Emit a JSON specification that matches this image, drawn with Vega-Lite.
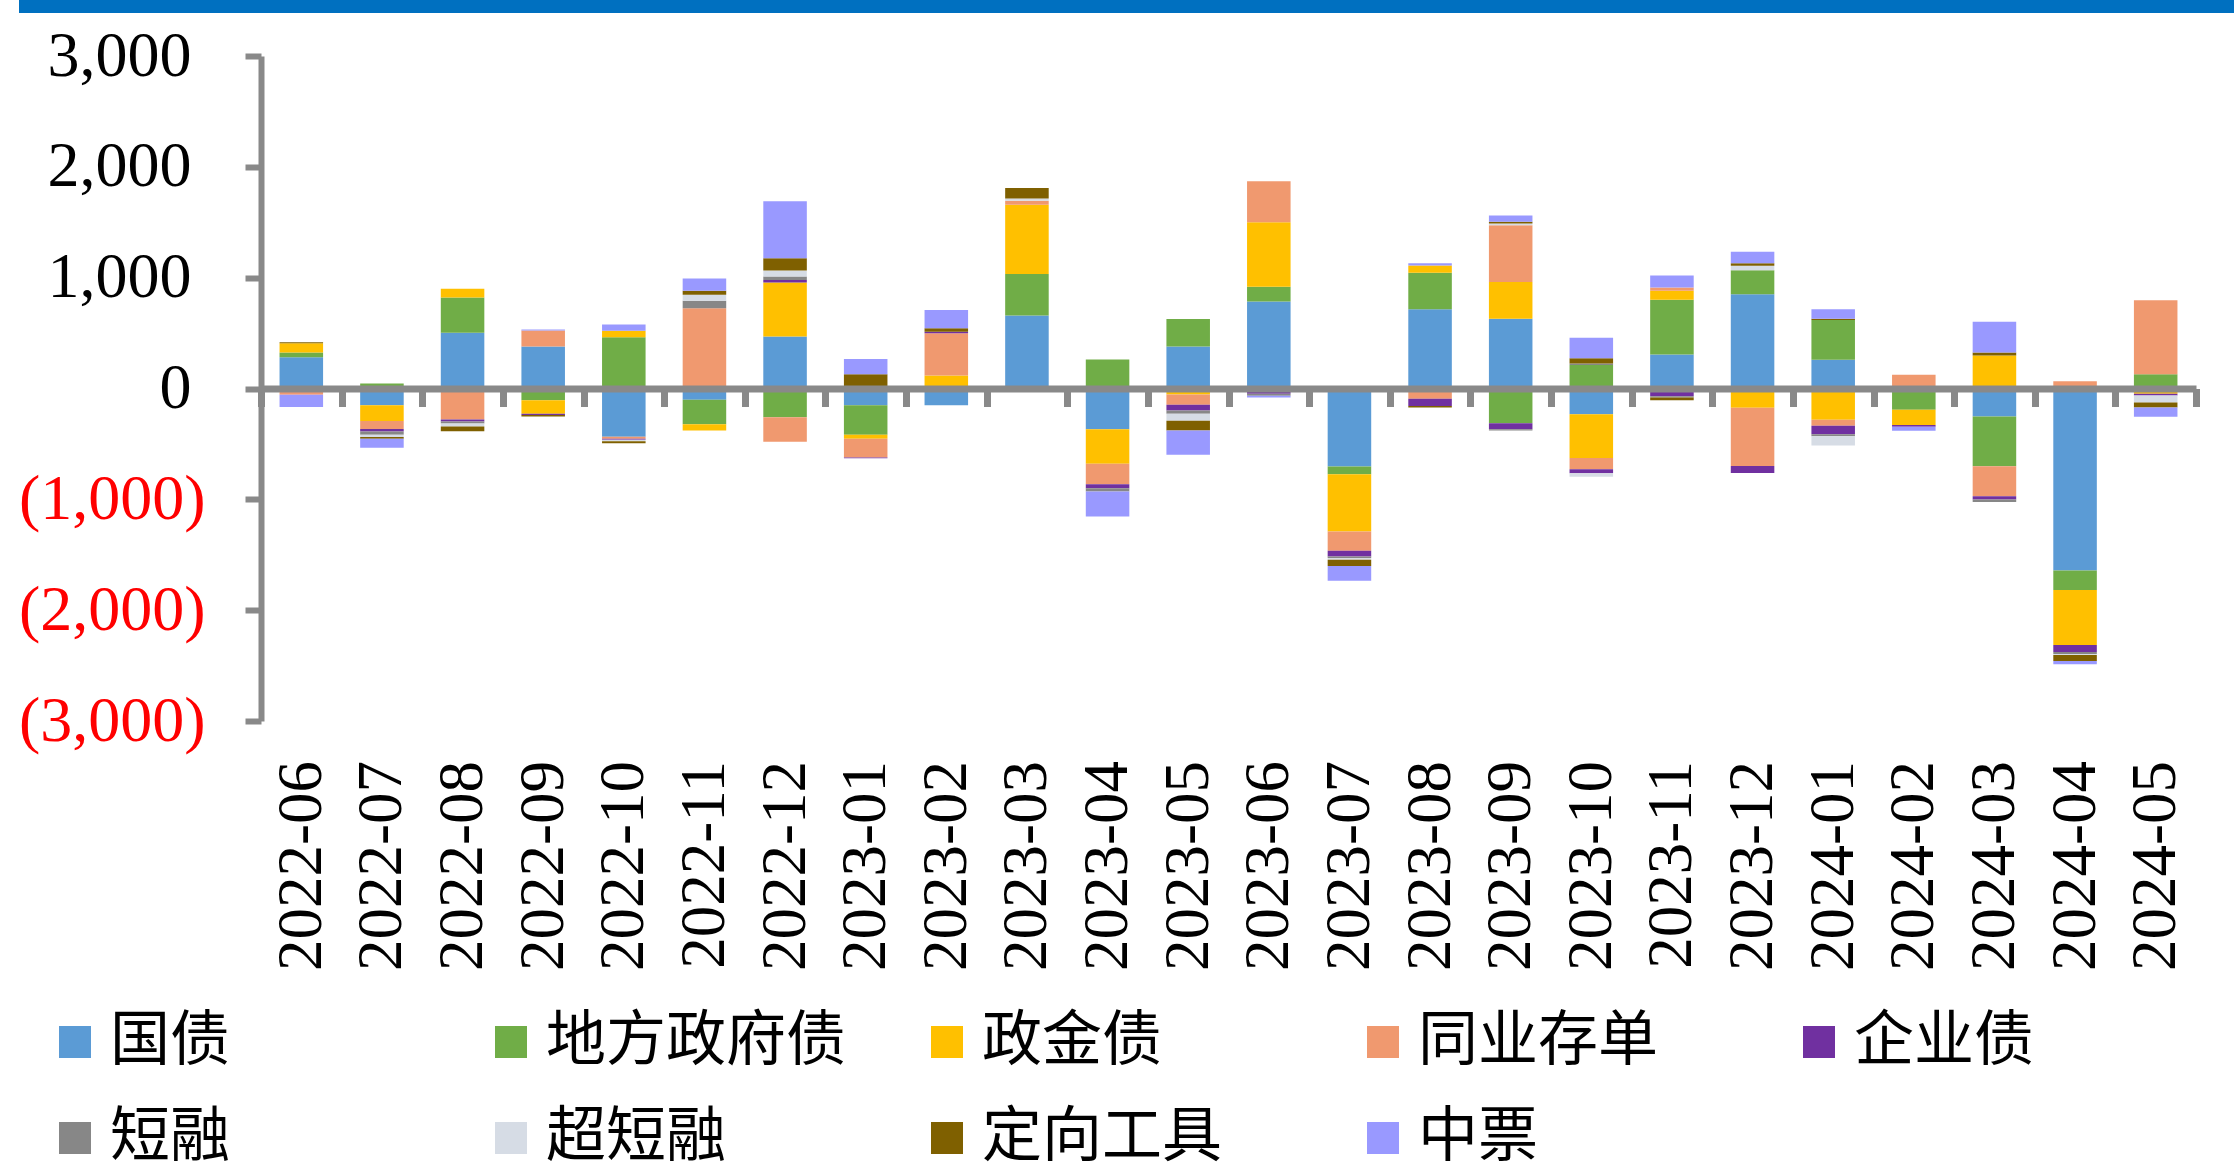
{
  "$schema": "https://vega.github.io/schema/vega-lite/v6.json",
  "background": "white",
  "padding": {"left": 12, "top": 0, "right": 0, "bottom": 0},
  "autosize": {"type": "pad"},
  "spacing": 11,
  "datasets": {
    "series": [
      {"type": "国债", "k": 0},
      {"type": "地方政府债", "k": 1},
      {"type": "政金债", "k": 2},
      {"type": "同业存单", "k": 3},
      {"type": "企业债", "k": 4},
      {"type": "短融", "k": 5},
      {"type": "超短融", "k": 6},
      {"type": "定向工具", "k": 7},
      {"type": "中票", "k": 8}
    ],
    "flows": [
      {"month": "2022-06", "国债": 283, "地方政府债": 42, "政金债": 84, "同业存单": -57, "企业债": 0, "短融": 0, "超短融": 0, "定向工具": 9, "中票": -111},
      {"month": "2022-07", "国债": -150, "地方政府债": 45, "政金债": -144, "同业存单": -72, "企业债": -21, "短融": -30, "超短融": -21, "定向工具": -15, "中票": -81},
      {"month": "2022-08", "国债": 503, "地方政府债": 319, "政金债": 79, "同业存单": -280, "企业债": -18, "短融": -18, "超短融": -27, "定向工具": -42, "中票": 0},
      {"month": "2022-09", "国债": 380, "地方政府债": -105, "政金债": -123, "同业存单": 144, "企业债": -12, "短融": 0, "超短融": 0, "定向工具": -12, "中票": 8},
      {"month": "2022-10", "国债": -436, "地方政府债": 463, "政金债": 57, "同业存单": -18, "企业债": -9, "短融": 0, "超短融": -12, "定向工具": -18, "中票": 57},
      {"month": "2022-11", "国债": -102, "地方政府债": -220, "政金债": -57, "同业存单": 725, "企业债": 0, "短融": 66, "超短融": 54, "定向工具": 36, "中票": 111},
      {"month": "2022-12", "国债": 469, "地方政府债": -259, "政金债": 487, "同业存单": -222, "企业债": 24, "短融": 30, "超短融": 54, "定向工具": 111, "中票": 514},
      {"month": "2023-01", "国债": -150, "地方政府债": -268, "政金债": -36, "同业存单": -168, "企业债": -8, "短融": 0, "超短融": 0, "定向工具": 129, "中票": 138},
      {"month": "2023-02", "国债": -150, "地方政府债": 0, "政金债": 117, "同业存单": 382, "企业债": 12, "短融": 0, "超短融": 0, "定向工具": 33, "中票": 165},
      {"month": "2023-03", "国债": 659, "地方政府债": 373, "政金债": 625, "同业存单": 36, "企业债": 0, "短融": 0, "超短融": 21, "定向工具": 96, "中票": -25},
      {"month": "2023-04", "国债": -367, "地方政府债": 262, "政金债": -313, "同业存单": -183, "企业债": -36, "短融": -30, "超短融": 0, "定向工具": 0, "中票": -226},
      {"month": "2023-05", "国债": 379, "地方政府债": 247, "政金债": -54, "同业存单": -93, "企业债": -51, "短融": -30, "超短融": -63, "定向工具": -87, "中票": -220},
      {"month": "2023-06", "国债": 785, "地方政府债": 132, "政金债": 583, "同业存单": 370, "企业债": -48, "短融": -18, "超短融": 0, "定向工具": 0, "中票": -15},
      {"month": "2023-07", "国债": -704, "地方政府债": -69, "政金债": -517, "同业存单": -174, "企业债": -51, "短融": -15, "超短融": -15, "定向工具": -57, "中票": -132},
      {"month": "2023-08", "国债": 716, "地方政府债": 328, "政金债": 66, "同业存单": -93, "企业债": -66, "短融": 0, "超短融": 0, "定向工具": -12, "中票": 21},
      {"month": "2023-09", "国债": 629, "地方政府债": -313, "政金债": 331, "同业存单": 514, "企业债": -54, "短融": -12, "超短融": 15, "定向工具": 15, "中票": 57},
      {"month": "2023-10", "国债": -232, "地方政府债": 213, "政金债": -394, "同业存单": -102, "企业债": -36, "短融": 12, "超短融": -33, "定向工具": 48, "中票": 186},
      {"month": "2023-11", "国债": 307, "地方政府债": 493, "政金债": 81, "同业存单": 30, "企业债": -69, "短融": -12, "超短融": 0, "定向工具": -24, "中票": 108},
      {"month": "2023-12", "国债": 851, "地方政府债": 217, "政金债": -174, "同业存单": -526, "企业债": -63, "短融": 0, "超短融": 39, "定向工具": 24, "中票": 102},
      {"month": "2024-01", "国债": 259, "地方政府债": 358, "政金债": -283, "同业存单": -54, "企业债": -75, "短融": -18, "超短融": -84, "定向工具": 12, "中票": 87},
      {"month": "2024-02", "国债": 0, "地方政府债": -192, "政金债": -138, "同业存单": 123, "企业债": -15, "短融": 0, "超短融": 0, "定向工具": 0, "中票": -36},
      {"month": "2024-03", "国债": -252, "地方政府债": -450, "政金债": 297, "同业存单": -270, "企业债": -30, "短融": -21, "超短融": 0, "定向工具": 27, "中票": 279},
      {"month": "2024-04", "国债": -1642, "地方政府债": -177, "政金债": -496, "同业存单": 66, "企业债": -63, "短融": -18, "超短融": -9, "定向工具": -54, "中票": -30},
      {"month": "2024-05", "国债": 0, "地方政府债": 129, "政金债": -48, "同业存单": 668, "企业债": -15, "短融": 0, "超短融": -63, "定向工具": -45, "中票": -84}
    ]
  },
  "vconcat": [
    {
      "data": {"values": [{"band": "top"}]},
      "width": 1975,
      "height": 13,
      "mark": {"type": "rule", "color": "#0070C0", "strokeWidth": 13},
      "encoding": {
        "x": {"datum": 0, "type": "quantitative", "scale": {"domain": [0, 1], "range": [-242, 1975]}, "axis": null},
        "x2": {"datum": 1},
        "y": {"datum": 0.5, "type": "quantitative", "scale": {"domain": [0, 1]}, "axis": null}
      }
    },
    {
      "width": 1935,
      "height": 665,
      "data": {"name": "flows"},
      "transform": [
        {"fold": ["国债", "地方政府债", "政金债", "同业存单", "企业债", "短融", "超短融", "定向工具", "中票"], "as": ["type", "value"]},
        {"lookup": "type", "from": {"data": {"name": "series"}, "key": "type", "fields": ["k"]}}
      ],
      "mark": {"type": "bar", "width": {"band": 0.54}},
      "encoding": {
        "x": {
          "field": "month",
          "type": "ordinal",
          "scale": {"paddingInner": 0, "paddingOuter": 0},
          "axis": {
            "title": null,
            "zindex": 1,
            "offset": -332.5,
            "labelAngle": -90,
            "labelFont": "Liberation Serif",
            "labelFontSize": 63,
            "labelColor": "#000000",
            "labelPadding": 354,
            "labelLimit": 0,
            "domainColor": "#898989",
            "domainWidth": 7,
            "tickColor": "#898989",
            "tickWidth": 7,
            "tickSize": 18,
            "tickBand": "extent",
            "grid": false
          }
        },
        "y": {
          "field": "value",
          "type": "quantitative",
          "stack": "zero",
          "scale": {"domain": [-3000, 3000], "nice": false},
          "axis": {
            "title": null,
            "values": [-3000, -2000, -1000, 0, 1000, 2000, 3000],
            "labelExpr": "datum.value < 0 ? '(' + format(-datum.value, ',') + ')' : format(datum.value, ',')",
            "labelColor": {"condition": {"test": "datum.value < 0", "value": "#FF0000"}, "value": "#000000"},
            "labelPadding": {"condition": {"test": "datum.value < 0", "value": 40}, "value": 54},
            "labelFont": "Liberation Serif",
            "labelFontSize": 64,
            "labelLimit": 0,
            "labelFlush": false,
            "labelOverlap": false,
            "domainColor": "#898989",
            "domainWidth": 6,
            "tickColor": "#898989",
            "tickWidth": 6,
            "tickSize": 16,
            "grid": false
          }
        },
        "color": {
          "field": "type",
          "type": "nominal",
          "scale": {
            "domain": ["国债", "地方政府债", "政金债", "同业存单", "企业债", "短融", "超短融", "定向工具", "中票"],
            "range": ["#5B9BD5", "#70AD47", "#FFC000", "#F0996F", "#7030A0", "#878787", "#D6DCE5", "#7F6000", "#9999FF"]
          },
          "legend": {
            "title": null,
            "orient": "none",
            "direction": "horizontal",
            "legendX": -216,
            "legendY": 956,
            "columns": 5,
            "gridAlign": "all",
            "columnPadding": 71,
            "rowPadding": 36,
            "padding": 0,
            "symbolType": "square",
            "symbolSize": 1024,
            "symbolStrokeWidth": 0,
            "labelFont": "Noto Sans CJK SC",
            "labelFontSize": 60,
            "labelColor": "#000000",
            "labelOffset": 5,
            "labelLimit": 500
          }
        },
        "order": {"field": "k", "type": "quantitative"}
      }
    }
  ],
  "resolve": {"legend": {"color": "independent"}},
  "config": {"view": {"stroke": null}}
}
